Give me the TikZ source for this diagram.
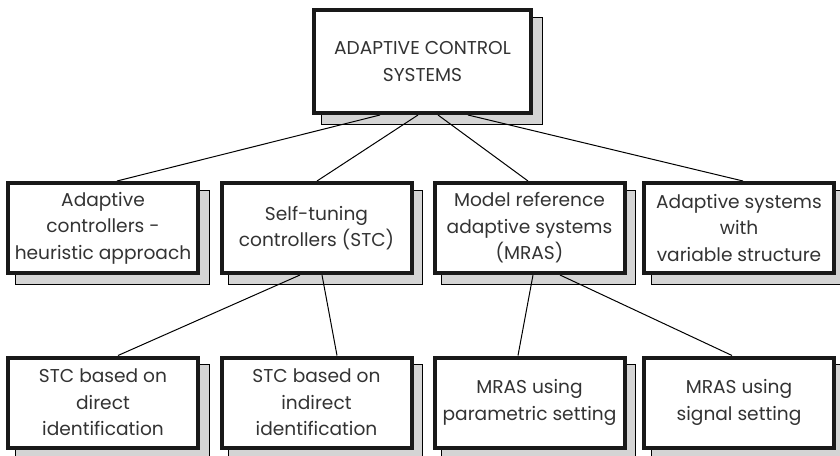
\documentclass[tikz,border=0pt]{standalone}
\usepackage{fontspec}
\setmainfont{Poppins}
\pgfdeclarelayer{background}
\pgfsetlayers{background,main}
\tikzset{
  x=1pt, y=-1pt,
  box/.style={draw=black!90, line width=4pt, fill=white, inner sep=0pt,
    align=center, text=black!80,
    font=\fontsize{18.6}{26.5}\selectfont},
  topbox/.style={box, minimum width=217pt, minimum height=103pt},
  subbox/.style={box, minimum width=190pt, minimum height=90pt},
  shade/.style={fill=black!17, draw=black, line width=0.8pt},
  link/.style={draw=black, line width=1pt},
}
\newcommand{\shadowof}[1]{%
  \path[shade] ([shift={(9,9)}]#1.south west) rectangle ([shift={(9,9)}]#1.north east);}
\begin{document}
\begin{tikzpicture}
\useasboundingbox (0,0) rectangle (840,455);
\clip (0,0) rectangle (840,455);

% root
\node[topbox] (root) at (422.5,61.5) {ADAPTIVE CONTROL\\SYSTEMS};

% second level
\node[subbox] (heur) at (103,228) {Adaptive\\controllers -\\heuristic approach};
\node[subbox] (stc)  at (316.5,228) {Self-tuning\\controllers (STC)};
\node[subbox] (mras) at (529.5,228) {Model reference\\adaptive systems\\(MRAS)};
\node[subbox] (vss)  at (739,228) {Adaptive systems\\with\\variable structure};

% third level
\node[subbox] (dir)  at (103,402.5) {STC based on\\direct\\identification};
\node[subbox] (ind)  at (316.5,402.5) {STC based on\\indirect\\identification};
\node[subbox] (par)  at (529.5,402.5) {MRAS using\\parametric setting};
\node[subbox] (sig)  at (739,402.5) {MRAS using\\signal setting};

\begin{pgfonlayer}{background}
  \foreach \n in {root,heur,stc,mras,vss,dir,ind,par,sig} {\shadowof{\n}}
  % connectors
  \draw[link] ([xshift=-42.5]root.south) -- ([xshift=14]heur.north);
  \draw[link] ([xshift=-4.5]root.south)  -- ([xshift=0.5]stc.north);
  \draw[link] ([xshift=15.5]root.south)  -- ([xshift=-1.5]mras.north);
  \draw[link] ([xshift=45.5]root.south)  -- ([xshift=4]vss.north);
  \draw[link] ([xshift=-16.5]stc.south)  -- ([xshift=15]dir.north);
  \draw[link] ([xshift=5.5]stc.south)    -- ([xshift=20.5]ind.north);
  \draw[link] ([xshift=3.5]mras.south)   -- ([xshift=-11.5]par.north);
  \draw[link] ([xshift=30.5]mras.south)  -- ([xshift=-7]sig.north);
\end{pgfonlayer}
\end{tikzpicture}
\end{document}
